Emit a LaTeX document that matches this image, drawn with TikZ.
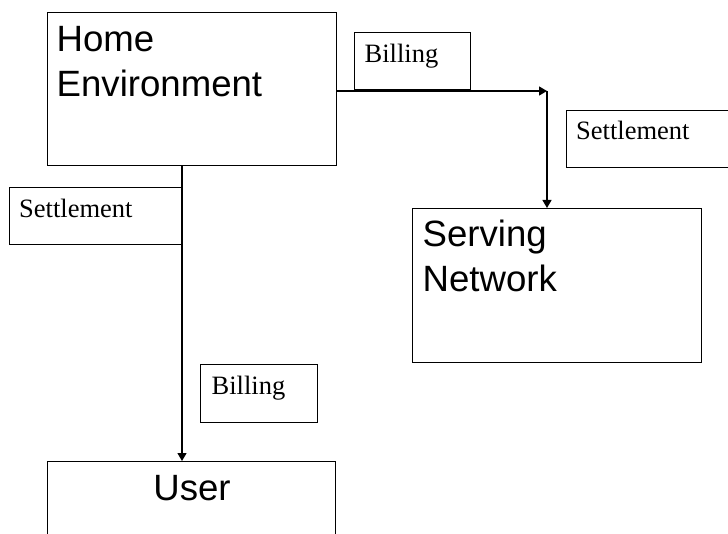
\documentclass[tikz,border=0pt]{standalone}
\usepackage{fontspec}
\setmainfont{Liberation Serif}
\newfontfamily\arialf{Liberation Sans}
\usetikzlibrary{arrows.meta}
\begin{document}
\begin{tikzpicture}[x=1pt,y=-1pt,
  box/.style={draw=black,line width=1.3pt,rectangle,inner sep=0pt,anchor=north west},
  bigtxt/.style={font=\arialf\fontsize{36.6}{44}\selectfont,inner sep=0pt,anchor=base west},
  smalltxt/.style={font=\fontsize{26.5}{32}\selectfont,inner sep=0pt,anchor=base west},
  arr/.style={draw=black,line width=1.3pt,-{Triangle[length=8pt,width=9pt]}},
  conn/.style={draw=black,line width=1.3pt}]
\clip (0,0) rectangle (728,534);
\fill[white] (0,0) rectangle (728,534);
% boxes
\node[box,minimum width=289pt,minimum height=153pt] (home) at (47,12) {};
\node[box,minimum width=289pt,minimum height=154pt] (serving) at (412,208) {};
\node[box,minimum width=288pt,minimum height=120pt] (user) at (47,461) {};
\node[box,minimum width=173pt,minimum height=57pt] (settleL) at (9,187) {};
\node[box,minimum width=116pt,minimum height=57pt] (billU) at (354,32) {};
\node[box,minimum width=200pt,minimum height=57pt] (settleR) at (566,110) {};
\node[box,minimum width=117pt,minimum height=58pt] (billL) at (200,364) {};
% texts
\node[bigtxt] (homeA) at (56.5,52) {Home};
\node[bigtxt] (homeB) at (56.5,97) {Environment};
\node[bigtxt] (servA) at (422.5,246.5) {Serving};
\node[bigtxt] (servB) at (422.5,291.5) {Network};
\node[bigtxt,anchor=base] (usert) at (192,500) {User};
\node[smalltxt] (settleLt) at (19,218) {Settlement};
\node[smalltxt] (billUt) at (364.5,63) {Billing};
\node[smalltxt] (settleRt) at (576,140) {Settlement};
\node[smalltxt] (billLt) at (211.5,395) {Billing};
% connectors
\coordinate (hu) at (182,0);
\coordinate (corner) at (547,91);
\draw[arr] (hu |- home.south) -- (hu |- user.north);
\draw[arr] (home.east |- corner) -- (corner);
\draw[arr] (corner) -- (corner |- serving.north);
\end{tikzpicture}
\end{document}
